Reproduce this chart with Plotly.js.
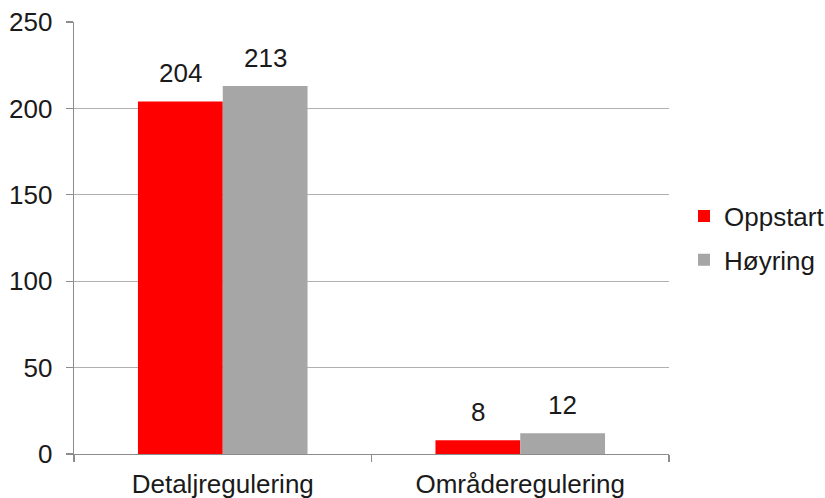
<!DOCTYPE html>
<html>
<head>
<meta charset="utf-8">
<script src="https://cdn.plot.ly/plotly-3.0.1.min.js"></script>
<style>html,body{margin:0;padding:0;background:#fff;}#chart{width:825px;height:498px;}</style>
</head>
<body>
<div id="chart"></div>
<script>
const categories = ["Detaljregulering", "Områderegulering"];
const seriesNames = ["Oppstart", "Høyring"];
const oppstart = [204, 8];
const hoyring = [213, 12];
const yTicks = [0, 50, 100, 150, 200, 250];

const colors = ["#ff0000", "#a6a6a6"];
const bargap = 0.43;
const font = "Liberation Sans, Arial, sans-serif";
const textColor = "#1a1a1a";
const fs = 26;

const series = [oppstart, hoyring];
const traces = series.map((vals, j) => ({
  type: "bar",
  name: seriesNames[j],
  x: categories,
  y: vals,
  marker: {color: colors[j], line: {width: 0}},
  legendgroup: "g" + j,
  hoverinfo: "x+y+name"
}));

const barW = (1 - bargap) / series.length;
const annotations = [];
series.forEach((vals, j) => {
  vals.forEach((v, i) => {
    annotations.push({
      x: i + (j - (series.length - 1) / 2) * barW,
      y: v,
      xref: "x", yref: "y",
      text: String(v),
      showarrow: false,
      yanchor: "bottom",
      yshift: 11,
      font: {family: font, size: fs, color: textColor}
    });
  });
});

const plotL = 74, plotR = 669;
const layout = {
  width: 825, height: 498,
  margin: {l: plotL, r: 825 - plotR, t: 22, b: 44, pad: 0, autoexpand: false},
  paper_bgcolor: "#ffffff",
  plot_bgcolor: "#ffffff",
  font: {family: font, size: fs, color: textColor},
  barmode: "group",
  bargap: bargap,
  bargroupgap: 0,
  showlegend: true,
  legend: {
    x: (684 - plotL) / (plotR - plotL), xanchor: "left",
    y: 0.5, yanchor: "middle",
    font: {family: font, size: fs, color: textColor},
    traceorder: "grouped",
    tracegroupgap: 7,
    bgcolor: "rgba(0,0,0,0)"
  },
  xaxis: {
    type: "category",
    tickson: "boundaries",
    ticks: "outside",
    ticklen: 7,
    tickcolor: "#8c8c8c",
    tickwidth: 1.3,
    showgrid: false,
    showline: true,
    linecolor: "#8c8c8c",
    linewidth: 1.3,
    ticklabelstandoff: 6,
    automargin: false,
    tickfont: {family: font, size: fs, color: textColor},
    fixedrange: true
  },
  yaxis: {
    range: [0, 250],
    tickvals: yTicks,
    ticktext: yTicks.map(String),
    ticks: "outside",
    ticklen: 7,
    tickcolor: "#8c8c8c",
    tickwidth: 1.3,
    showgrid: true,
    gridcolor: "#b0b0b0",
    gridwidth: 1.3,
    showline: true,
    linecolor: "#8c8c8c",
    linewidth: 1.3,
    zeroline: false,
    ticklabelstandoff: 8,
    automargin: false,
    tickfont: {family: font, size: fs, color: textColor},
    fixedrange: true
  },
  annotations: annotations
};

Plotly.newPlot("chart", traces, layout, {displayModeBar: false, staticPlot: true});
</script>
</body>
</html>
